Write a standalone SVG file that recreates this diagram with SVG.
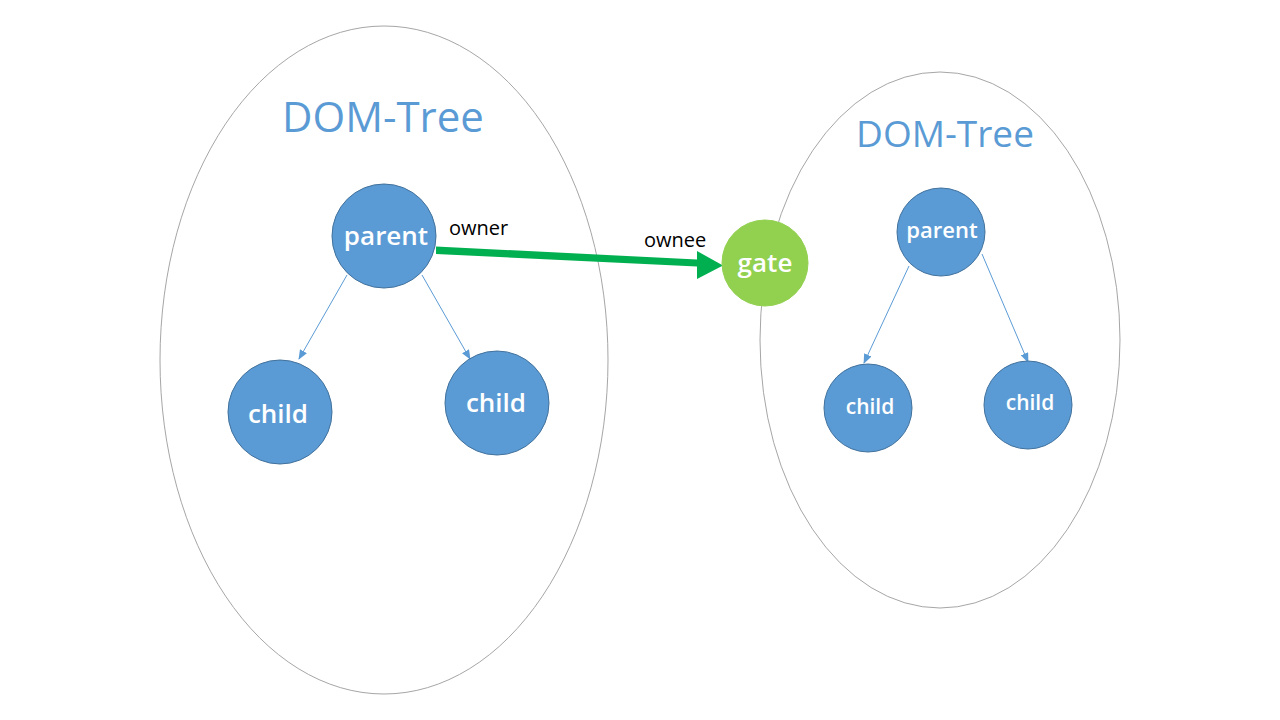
<svg xmlns="http://www.w3.org/2000/svg" width="1280" height="720" viewBox="0 0 1280 720">
<style>
.tree{fill:none;stroke:#a6a6a6;stroke-width:1}
.node{fill:#5b9bd5;stroke:#41719c;stroke-width:1}
.gate{fill:#92d050;stroke:#92d050;stroke-width:1}
.lbl{fill:#ffffff;font-family:"Open Sans","Noto Sans",sans-serif;font-weight:600;text-anchor:middle}
.title{fill:#5b9bd5;font-family:"Open Sans","Noto Sans",sans-serif;text-anchor:middle}
.edge{stroke:#5b9bd5;stroke-width:1;fill:none}
.elbl{fill:#000000;font-family:"Open Sans","Noto Sans",sans-serif;font-size:20px}
</style>
<defs>
<marker id="ah" markerWidth="10" markerHeight="8" refX="9" refY="4" orient="auto" markerUnits="userSpaceOnUse">
<path d="M0,0 L10,4 L0,8 Z" fill="#5b9bd5"/>
</marker>
</defs>
<rect width="1280" height="720" fill="#ffffff"/>
<g id="tree-left">
<ellipse class="tree" cx="384" cy="360" rx="224" ry="334"/>
<text class="title" x="383" y="132" font-size="42">DOM-Tree</text>
</g>
<g id="tree-right">
<ellipse class="tree" cx="940" cy="340" rx="180" ry="268"/>
<text class="title" x="945" y="147" font-size="37">DOM-Tree</text>
</g>
<g id="connectors">
<line class="edge" x1="347" y1="275" x2="299" y2="359" marker-end="url(#ah)"/>
<line class="edge" x1="422" y1="275" x2="470" y2="359" marker-end="url(#ah)"/>
<line class="edge" x1="909" y1="266" x2="864" y2="363" marker-end="url(#ah)"/>
<line class="edge" x1="982" y1="254" x2="1028" y2="362" marker-end="url(#ah)"/>
<path d="M436,246.5 L697,259.5 L697,251 L723,265.5 L697,279 L697,266.5 L436,254 Z" fill="#00b050"/>
<text class="elbl" x="449" y="235">owner</text>
<text class="elbl" x="644" y="247">ownee</text>
</g>
<g id="parent-left">
<circle class="node" cx="384" cy="236" r="52"/>
<text class="lbl" x="386" y="245" font-size="26">parent</text>
</g>
<g id="child-left-1">
<circle class="node" cx="280" cy="412" r="52"/>
<text class="lbl" x="278" y="423" font-size="26">child</text>
</g>
<g id="child-left-2">
<circle class="node" cx="497" cy="403" r="52"/>
<text class="lbl" x="496" y="412" font-size="26">child</text>
</g>
<g id="gate">
<circle class="gate" cx="765" cy="263" r="43"/>
<text class="lbl" x="765" y="272" font-size="26">gate</text>
</g>
<g id="parent-right">
<circle class="node" cx="941" cy="232" r="44"/>
<text class="lbl" x="942" y="238" font-size="22">parent</text>
</g>
<g id="child-right-1">
<circle class="node" cx="868" cy="408" r="44"/>
<text class="lbl" x="870" y="414" font-size="21">child</text>
</g>
<g id="child-right-2">
<circle class="node" cx="1028" cy="405" r="44"/>
<text class="lbl" x="1030" y="410" font-size="21">child</text>
</g>
</svg>
